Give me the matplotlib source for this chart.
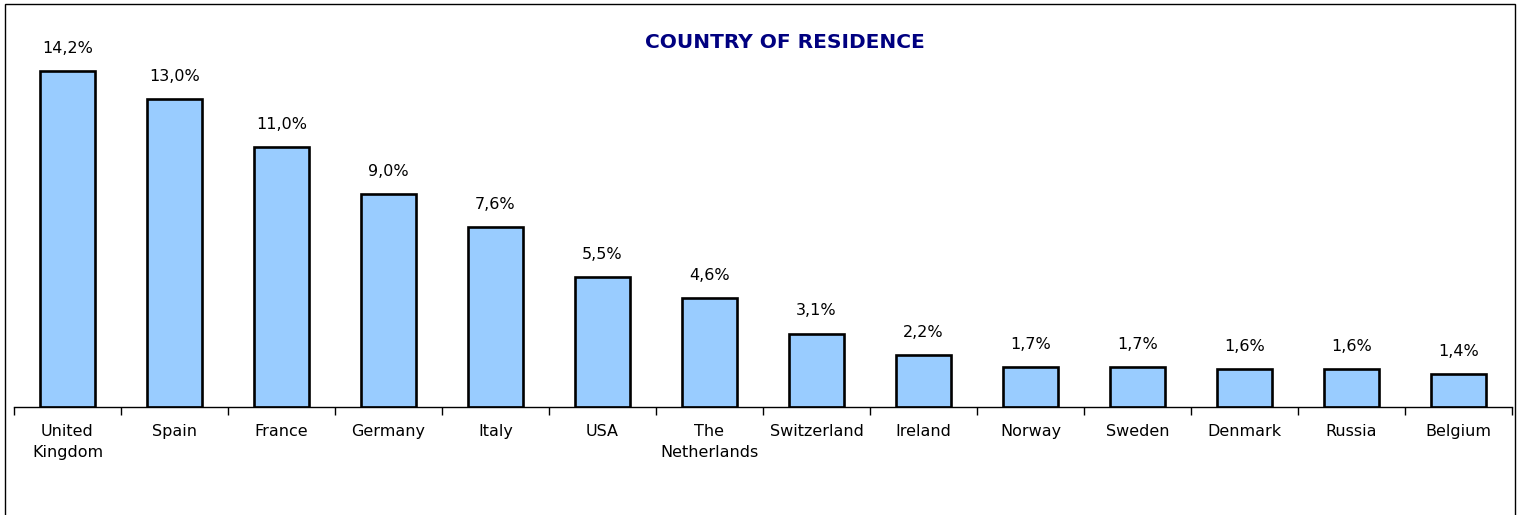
import matplotlib
matplotlib.use("Agg")
import matplotlib.pyplot as plt
import matplotlib.patches as mpatches
import numpy as np

countries = ["United\nKingdom", "Spain", "France", "Germany", "Italy", "USA",
             "The\nNetherlands", "Switzerland", "Ireland", "Norway", "Sweden",
             "Denmark", "Russia", "Belgium"]
shares = [14.2, 13.0, 11.0, 9.0, 7.6, 5.5, 4.6, 3.1, 2.2, 1.7, 1.7, 1.6, 1.6, 1.4]

BAR_COLOR = "#99CCFF"
TITLE_COLOR = "#000080"

W, H = 1520, 515
fig = plt.figure(figsize=(W / 100, H / 100), dpi=100)
ax = fig.add_axes([14 / W, 1 - 407 / H, (1512 - 14) / W, (407 - 20) / H])

x = np.arange(len(countries))
bars = ax.bar(x, shares, width=0.51, color=BAR_COLOR, edgecolor="black", linewidth=1.9, zorder=2)

for xi, v in zip(x, shares):
    ax.annotate(f"{v:.1f}%".replace(".", ","), xy=(xi, v), xytext=(0, 11),
                textcoords="offset points", ha="center", va="bottom", fontsize=11.5)

ax.set_xlim(-0.5, len(countries) - 0.5)
ax.set_ylim(0, 16.36)

# eje: solo linea inferior con marcas entre categorias
for s in ["top", "right", "left"]:
    ax.spines[s].set_visible(False)
ax.spines["bottom"].set_linewidth(1.0)
ax.set_yticks([])
ax.set_xticks(x)
ax.set_xticklabels(countries, fontsize=11.5, linespacing=1.55)
ax.tick_params(axis="x", which="major", length=0, pad=12)
ax.set_xticks(np.arange(-0.5, len(countries)), minor=True)
ax.tick_params(axis="x", which="minor", length=6, width=1.0, color="black")

fig.text(785 / W, 1 - 43 / H, "COUNTRY OF RESIDENCE", ha="center", va="center",
         fontsize=14.5, fontweight="bold", color=TITLE_COLOR)

# marco exterior del grafico
frame = mpatches.Rectangle((5 / W, -0.05), (1515 - 5) / W, 1 - 4 / H + 0.05,
                           transform=fig.transFigure, fill=False, edgecolor="black",
                           linewidth=1.0, clip_on=False)
fig.patches.append(frame)

fig.savefig("out.png", dpi=100)
